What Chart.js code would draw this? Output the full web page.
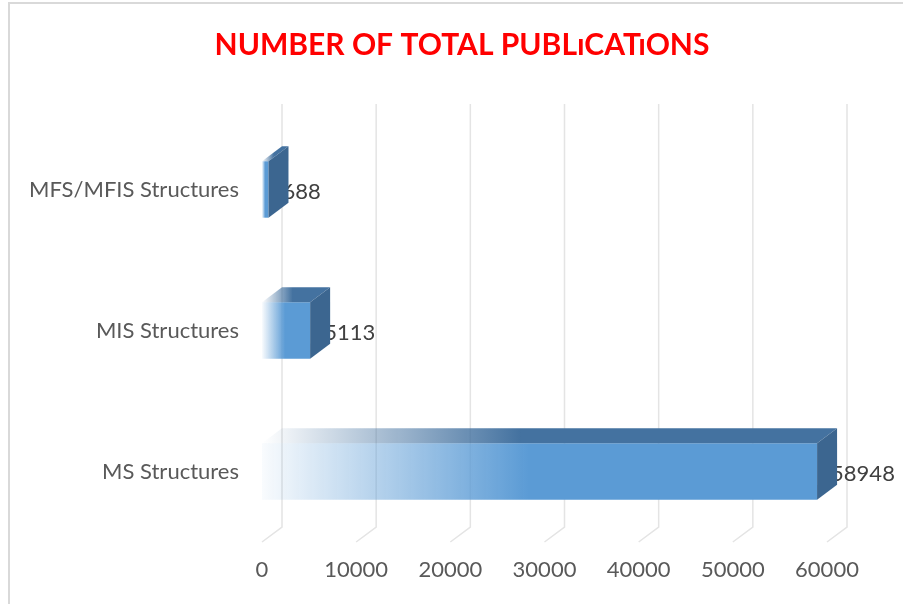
<!DOCTYPE html>
<html>
<head>
<meta charset="utf-8">
<script src="https://cdn.jsdelivr.net/npm/chart.js@4/dist/chart.umd.min.js"></script>
<style>
  html, body { margin: 0; padding: 0; background: #ffffff; }
  #wrap { width: 903px; height: 604px; position: relative; }
</style>
</head>
<body>
<div id="wrap"><canvas id="c" width="903" height="604"></canvas></div>
<script>
// ---- data ----
const chartTitle = 'NUMBER OF TOTAL PUBLıCATıONS';
const categories = ['MFS/MFIS Structures', 'MIS Structures', 'MS Structures'];
const publications = [688, 5113, 58948];
const axisMin = 0;
const axisMax = 60000;
const axisStep = 10000;

// ---- styling ----
const DX = 20, DY = 15; // 3D depth offset
const FRONT = [91, 155, 213];
const TOP = [68, 114, 160];
const SIDE = '#3c6690';
const GRID = '#e4e4e4';
const FONT = 'Lato, "Open Sans", sans-serif';

function rgba(c, a) { return 'rgba(' + c[0] + ',' + c[1] + ',' + c[2] + ',' + a + ')'; }

const threeD = {
  id: 'threeD',
  afterLayout(chart) {
    const tb = chart.titleBlock;
    if (tb) { tb.left = 21; tb.right = 903; }
  },
  beforeDraw(chart) {
    const ctx = chart.ctx;
    ctx.save();
    ctx.strokeStyle = '#d9d9d9';
    ctx.lineWidth = 2;
    ctx.beginPath();
    ctx.moveTo(9, 610);
    ctx.lineTo(9, 3);
    ctx.lineTo(910, 3);
    ctx.stroke();
    ctx.restore();
  },
  beforeDatasetsDraw(chart) {
    const ctx = chart.ctx;
    const xs = chart.scales.x;
    const area = chart.chartArea;
    ctx.save();
    ctx.strokeStyle = GRID;
    ctx.lineWidth = 1.5;
    for (let v = axisMin; v <= axisMax; v += axisStep) {
      const x = xs.getPixelForValue(v);
      ctx.beginPath();
      ctx.moveTo(x + DX, area.top - DY);
      ctx.lineTo(x + DX, area.bottom - DY);
      ctx.lineTo(x, area.bottom);
      ctx.stroke();
    }
    ctx.restore();
  },
  afterDatasetsDraw(chart) {
    const ctx = chart.ctx;
    const meta = chart.getDatasetMeta(0);
    ctx.save();
    meta.data.forEach((el, i) => {
      const p = el.getProps(['x', 'y', 'base', 'height'], true);
      const x0 = p.base, x1 = p.x;
      const top = p.y - p.height / 2, bot = p.y + p.height / 2;
      // value label (drawn behind side face)
      ctx.fillStyle = '#404040';
      ctx.font = '22px ' + FONT;
      ctx.textAlign = 'left';
      ctx.textBaseline = 'middle';
      ctx.fillText(String(publications[i]), x1 + 14, p.y + 2);
      // top face
      const g = ctx.createLinearGradient(x0, 0, x1 + DX, 0);
      g.addColorStop(0, rgba(TOP, 0));
      g.addColorStop(0.45, rgba(TOP, 1));
      g.addColorStop(1, rgba(TOP, 1));
      ctx.fillStyle = g;
      ctx.beginPath();
      ctx.moveTo(x0, top);
      ctx.lineTo(x1, top);
      ctx.lineTo(x1 + DX, top - DY);
      ctx.lineTo(x0 + DX, top - DY);
      ctx.closePath();
      ctx.fill();
      // side face
      ctx.fillStyle = SIDE;
      ctx.beginPath();
      ctx.moveTo(x1, top);
      ctx.lineTo(x1 + DX, top - DY);
      ctx.lineTo(x1 + DX, bot - DY);
      ctx.lineTo(x1, bot);
      ctx.closePath();
      ctx.fill();
    });
    ctx.restore();
  }
};

new Chart(document.getElementById('c'), {
  type: 'bar',
  data: {
    labels: categories,
    datasets: [{
      label: 'Publications',
      data: publications,
      borderWidth: 0,
      barPercentage: 0.4,
      categoryPercentage: 1.0,
      backgroundColor(context) {
        const chart = context.chart;
        const xs = chart.scales.x;
        if (!xs || !chart.chartArea) return rgba(FRONT, 1);
        const v = context.raw;
        const x0 = xs.getPixelForValue(0);
        const x1 = xs.getPixelForValue(v);
        const g = chart.ctx.createLinearGradient(x0, 0, Math.max(x1, x0 + 1), 0);
        g.addColorStop(0, rgba(FRONT, 0.04));
        g.addColorStop(0.48, rgba(FRONT, 1));
        g.addColorStop(1, rgba(FRONT, 1));
        return g;
      }
    }]
  },
  options: {
    indexAxis: 'y',
    responsive: false,
    animation: false,
    layout: { padding: { left: 10, right: 76, top: 0, bottom: 20 } },
    plugins: {
      legend: { display: false },
      tooltip: { enabled: false },
      title: {
        display: true,
        text: chartTitle,
        color: '#ff0000',
        font: { family: FONT, size: 30, weight: 'bold', lineHeight: 1.2 },
        padding: { top: 27, bottom: 56 }
      }
    },
    scales: {
      x: {
        type: 'linear',
        min: axisMin,
        max: axisMax,
        grid: { display: false, drawTicks: false },
        border: { display: false },
        afterFit(scale) { scale.height = 42; },
        ticks: {
          stepSize: axisStep,
          padding: 15,
          maxRotation: 0,
          autoSkip: false,
          color: '#595959',
          font: { family: FONT, size: 22 },
          callback(value) { return String(value); }
        }
      },
      y: {
        grid: { display: false, drawTicks: false },
        border: { display: false },
        afterFit(scale) { scale.width = 252; },
        ticks: {
          padding: 23,
          color: '#595959',
          font: { family: FONT, size: 22 }
        }
      }
    }
  },
  plugins: [threeD]
});
</script>
</body>
</html>
